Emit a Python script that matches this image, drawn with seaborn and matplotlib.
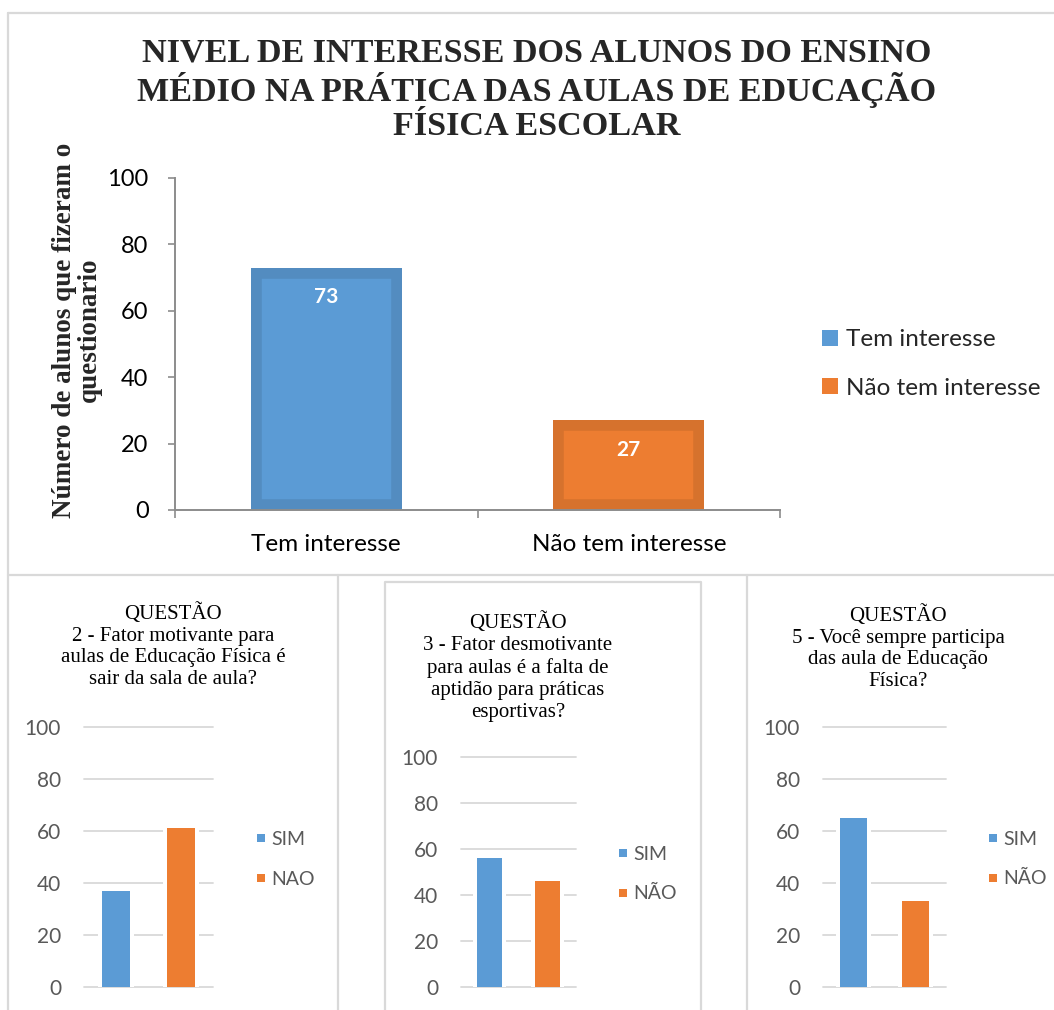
import matplotlib
matplotlib.use("Agg")
import matplotlib.pyplot as plt
from matplotlib.lines import Line2D
import pandas as pd
import seaborn as sns

# ---- data -------------------------------------------------------------
main_title = ("NIVEL DE INTERESSE DOS ALUNOS DO ENSINO\n"
              "MÉDIO NA PRÁTICA DAS AULAS DE EDUCAÇÃO\n"
              "FÍSICA ESCOLAR")
main_ylabel = "Número de alunos que fizeram o\nquestionario"
main_categories = ["Tem interesse", "Não tem interesse"]
main_values = [73, 27]
y_ticks = [0, 20, 40, 60, 80, 100]

q2_title = "QUESTÃO\n2 - Fator motivante para\naulas de Educação Física é\nsair da sala de aula?"
q2_categories = ["SIM", "NAO"]
q2_values = [37, 61]

q3_title = ("QUESTÃO\n3 - Fator desmotivante\npara aulas é a falta de\n"
            "aptidão para práticas\nesportivas?")
q3_categories = ["SIM", "NÃO"]
q3_values = [56, 46]

q5_title = "QUESTÃO\n5 - Você sempre participa\ndas aula de Educação\nFísica?"
q5_categories = ["SIM", "NÃO"]
q5_values = [65, 33]

# ---- style ------------------------------------------------------------
BLUE, ORANGE = "#5B9BD5", "#ED7D31"
BLUE_EDGE, ORANGE_EDGE = "#538CC0", "#D6722D"
GRID = "#D9D9D9"
FRAME = "#D9D9D9"
AXIS = "#8C8C8C"
SANS = ["Lato", "DejaVu Sans"]
SERIF = ["Liberation Serif", "DejaVu Serif"]

sns.set_theme(style="white")
plt.rcParams["font.family"] = SANS

W, H = 1054, 1010
fig = plt.figure(figsize=(W / 100, H / 100), dpi=100)
fig.patch.set_facecolor("white")


def px_box(x0, y_top, x1, y_bottom):
    return [x0 / W, 1 - y_bottom / H, (x1 - x0) / W, (y_bottom - y_top) / H]


def fx(x):
    return x / W


def fy(y):
    return 1 - y / H


def frame_line(xs, ys):
    fig.add_artist(Line2D([fx(x) for x in xs], [fy(y) for y in ys],
                          transform=fig.transFigure, color=FRAME, lw=1.6))


# ---- panel frames ------------------------------------------------------
frame_line([8, 1060], [13, 13])
frame_line([8, 8], [13, 1012])
frame_line([8, 1060], [575, 575])
frame_line([338, 338], [575, 1012])
frame_line([747, 747], [575, 1012])
frame_line([385, 385, 701, 701], [1012, 582, 582, 1012])

# ---- main chart --------------------------------------------------------
ax = fig.add_axes(px_box(175, 178, 780, 510))
main_df = pd.DataFrame({"categoria": main_categories, "alunos": main_values})
sns.barplot(data=main_df, x="categoria", y="alunos", hue="categoria",
            palette=[BLUE, ORANGE], saturation=1, width=0.5, legend=False, ax=ax)

# darker inner border on each bar (edge clipped to the bar itself)
for patch, edge in zip(ax.patches, [BLUE_EDGE, ORANGE_EDGE]):
    patch.set_edgecolor(edge)
    patch.set_linewidth(15.5)
    patch.set_clip_path(patch)

for i, v in enumerate(main_values):
    ax.annotate(str(v), xy=(i, v), xytext=(0, -21), textcoords="offset points",
                ha="center", va="center", color="white", fontsize=15,
                fontweight="bold")

ax.set_xlim(-0.5, 1.5)
ax.set_ylim(0, 100)
ax.set_yticks(y_ticks)
ax.set_yticklabels([str(t) for t in y_ticks])
sns.despine(ax=ax, top=True, right=True)
for side in ("left", "bottom"):
    ax.spines[side].set_color(AXIS)
    ax.spines[side].set_linewidth(1.4)
ax.tick_params(axis="y", length=5, width=1.2, color=AXIS, pad=14,
               labelsize=17, labelcolor="black", left=True)
ax.tick_params(axis="x", which="major", length=0, pad=17, labelsize=17.5,
               labelcolor="black")
ax.set_xticks([-0.5, 0.5, 1.5], minor=True)
ax.tick_params(axis="x", which="minor", length=6, width=1.2, color=AXIS,
               bottom=True)
ax.set_xlabel("")
ax.set_ylabel(main_ylabel, family=SERIF, fontweight="bold", fontsize=19.5,
              linespacing=1.0, va="center")
ax.yaxis.set_label_coords(-(175 - 77) / 605, (510 - 330) / 332)

legend_handles = [Line2D([], [], marker="s", linestyle="none", markersize=11.5,
                         markerfacecolor=c, markeredgewidth=0)
                  for c in (BLUE, ORANGE)]
ax.legend(legend_handles, main_categories, loc="center left",
          bbox_to_anchor=(fx(820.5), fy(364)), bbox_transform=fig.transFigure,
          frameon=False, fontsize=17.5, handlelength=0.8, handletextpad=0.24,
          labelspacing=1.15, borderpad=0, borderaxespad=0)

fig.text(fx(537), fy(90), main_title, ha="center", va="center",
         family=SERIF, fontweight="bold", fontsize=24.6, linespacing=1.13)


# ---- question charts ---------------------------------------------------
def question_chart(box, title, title_xy, categories, values, legend_xy):
    qax = fig.add_axes(px_box(*box))
    qdf = pd.DataFrame({"resposta": categories, "alunos": values})
    # white halo behind the bars, cutting the gridlines around them
    sns.barplot(data=qdf, x="resposta", y="alunos", hue="resposta",
                palette=["white", "white"], saturation=1, width=0.435,
                edgecolor="white", linewidth=5.8, legend=False, ax=qax)
    sns.barplot(data=qdf, x="resposta", y="alunos", hue="resposta",
                palette=[BLUE, ORANGE], saturation=1, width=0.435,
                linewidth=0, legend=False, ax=qax)
    qax.set_xlim(-0.5, 1.5)
    qax.set_ylim(0, 100)
    qax.set_yticks(y_ticks)
    qax.set_yticklabels([str(t) for t in y_ticks])
    qax.set_xticks([])
    qax.set_xlabel("")
    qax.set_ylabel("")
    for s in qax.spines.values():
        s.set_visible(False)
    qax.set_axisbelow(True)
    qax.grid(axis="y", color=GRID, linewidth=1.3)
    qax.grid(axis="x", visible=False)
    for gl in qax.get_ygridlines():
        gl.set_clip_on(False)
    qax.tick_params(axis="y", length=0, pad=16.5, labelsize=15,
                    labelcolor="#595959")
    handles = [Line2D([], [], marker="s", linestyle="none", markersize=5.8,
                      markerfacecolor=c, markeredgewidth=0)
               for c in (BLUE, ORANGE)]
    leg = qax.legend(handles, categories, loc="center left",
                     bbox_to_anchor=(fx(legend_xy[0]), fy(legend_xy[1])),
                     bbox_transform=fig.transFigure, frameon=False,
                     fontsize=14, handlelength=0.6, handletextpad=0.22,
                     labelspacing=1.16, borderpad=0, borderaxespad=0)
    for t in leg.get_texts():
        t.set_color("#595959")
    fig.text(fx(title_xy[0]), fy(title_xy[1]), title, ha="center", va="center",
             family=SERIF, fontsize=15, linespacing=1.2, color="black")


question_chart((84, 727, 213, 987), q2_title, (173, 646),
               q2_categories, q2_values, (255, 859.5))
question_chart((461, 757, 576, 987), q3_title, (518, 667),
               q3_categories, q3_values, (617, 874))
question_chart((823, 727, 946, 987), q5_title, (898, 648),
               q5_categories, q5_values, (987, 859))

fig.savefig("out.png", dpi=100, facecolor="white")
